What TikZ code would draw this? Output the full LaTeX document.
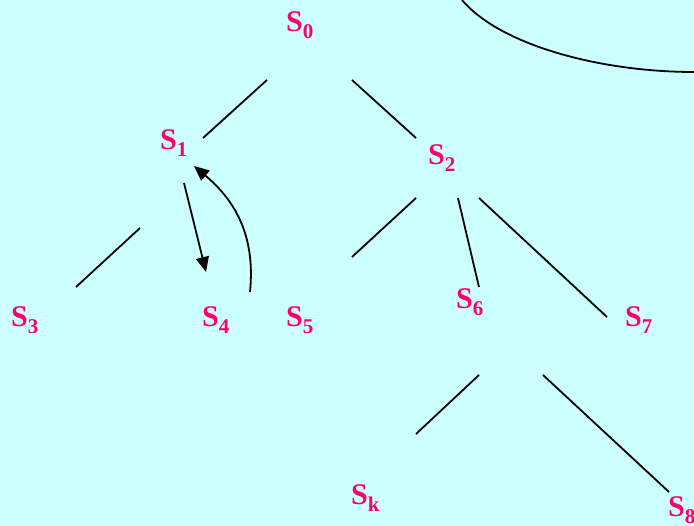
\documentclass[tikz,border=0pt]{standalone}
\usepackage{fontspec}
\setmainfont{Liberation Serif}
\usetikzlibrary{arrows.meta}
\definecolor{bgc}{HTML}{CCFFFF}
\definecolor{lab}{HTML}{FF0066}
\newcommand{\St}[1]{\fontsize{30}{30}\selectfont\bfseries S\raisebox{-7pt}{\fontsize{21}{21}\selectfont\bfseries #1}}
\begin{document}
\begin{tikzpicture}[x=1pt,y=-1pt,
  st/.style={inner sep=0pt,anchor=base west,text=lab},
  edge/.style={line width=1.8pt,draw=black},
  arr/.style={line width=1.8pt,-{Triangle[length=15pt,width=13pt]}}]
\fill[bgc] (0,0) rectangle (694,526);
\useasboundingbox (0,0) rectangle (694,526);
% states
\node[st] (s0) at (286,32) {\St{0}};
\node[st] (s1) at (160,150) {\St{1}};
\node[st] (s2) at (428,165) {\St{2}};
\node[st] (s3) at (11,327) {\St{3}};
\node[st] (s4) at (202,327) {\St{4}};
\node[st] (s5) at (286,327) {\St{5}};
\node[st] (s6) at (456,309) {\St{6}};
\node[st] (s7) at (625,327) {\St{7}};
\node[st] (sk) at (351,505) {\St{k}};
\node[st] (s8) at (668,517) {\St{8}};
% edge end points
\coordinate (a01) at (267,80);  \coordinate (b01) at (203,138);
\coordinate (a02) at (352,80);  \coordinate (b02) at (416,138);
\coordinate (a13) at (140,228); \coordinate (b13) at (76,287);
\coordinate (a25) at (416,198); \coordinate (b25) at (352,257);
\coordinate (a26) at (458,198); \coordinate (b26) at (479,287);
\coordinate (a27) at (479,198); \coordinate (b27) at (607,317);
\coordinate (a6k) at (479,375); \coordinate (b6k) at (416,434);
\coordinate (a68) at (543,375); \coordinate (b68) at (669,492);
\coordinate (p14) at (184,183); \coordinate (q14) at (206,272);
\coordinate (p41) at (250,292); \coordinate (q41) at (194,166);
\coordinate (c1) at (462,0); \coordinate (c2) at (694,72);
% tree edges
\draw[edge] (a01) -- (b01);
\draw[edge] (a02) -- (b02);
\draw[edge] (a13) -- (b13);
\draw[edge] (a25) -- (b25);
\draw[edge] (a26) -- (b26);
\draw[edge] (a27) -- (b27);
\draw[edge] (a6k) -- (b6k);
\draw[edge] (a68) -- (b68);
% arrows between S1 and S4
\draw[arr] (p14) -- (q14);
\draw[arr] (p41) .. controls (256,232) and (232,198) .. (q41);
% arc top right
\draw[edge] (c1) .. controls (500,45) and (600,72) .. (c2);
\end{tikzpicture}
\end{document}
